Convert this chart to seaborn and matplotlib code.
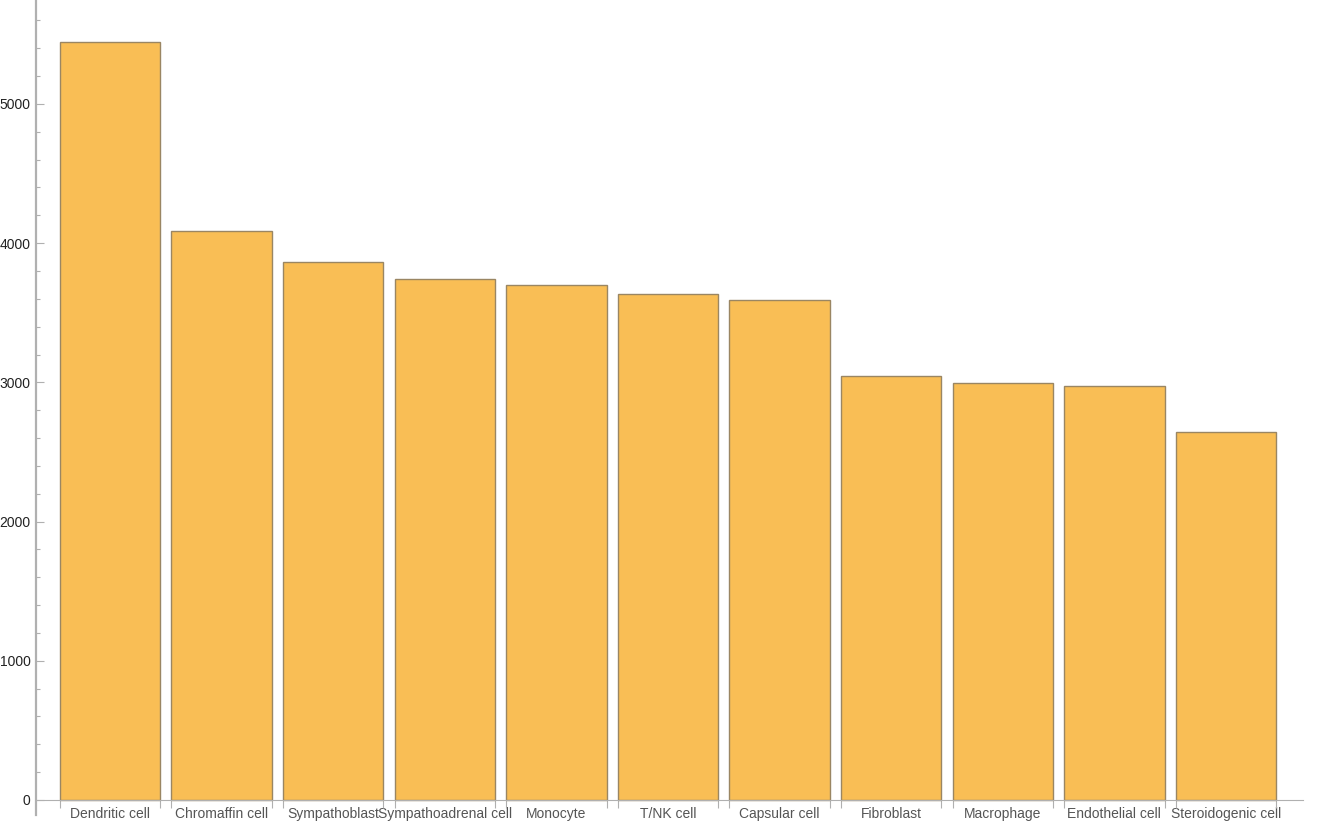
import numpy as np
import pandas as pd
import matplotlib
matplotlib.use("Agg")
import matplotlib.pyplot as plt
import seaborn as sns

# vrednosti odčitane s slike
cell_types = ["Dendritic cell", "Chromaffin cell", "Sympathoblast", "Sympathoadrenal cell",
              "Monocyte", "T/NK cell", "Capsular cell", "Fibroblast", "Macrophage",
              "Endothelial cell", "Steroidogenic cell"]
counts = [5445, 4088, 3865, 3745, 3702, 3636, 3592, 3047, 2998, 2976, 2645]

df = pd.DataFrame({"cell": cell_types, "count": counts})

sns.set_style("white")
plt.rcParams["font.family"] = ["Liberation Sans", "DejaVu Sans"]

fig = plt.figure(figsize=(13.32, 8.24), dpi=100)
ax = fig.add_axes([36 / 1332, 9 / 824, (1303 - 36) / 1332, (815 - 0) / 824])

sns.barplot(data=df, x="cell", y="count", color="#F9BE55", saturation=1,
            width=0.9, edgecolor="#9a8663", linewidth=1.0, ax=ax)

ax.set_xlim(-0.663, 10.69)
ax.set_ylim(-108, 5747)
ax.set_xlabel("")
ax.set_ylabel("")

for s in ["top", "right"]:
    ax.spines[s].set_visible(False)
ax.spines["bottom"].set_position(("data", 0))
ax.spines["bottom"].set_color("#b0b0b0")
ax.spines["left"].set_color("#b0b0b0")
ax.spines["left"].set_linewidth(1.6)

ax.set_yticks(np.arange(0, 5001, 1000))
ax.set_yticks(np.arange(0, 5601, 200), minor=True)
ax.tick_params(axis="y", which="both", left=True)
ax.tick_params(axis="y", which="major", direction="in", length=6, width=0.8, color="#b0b0b0",
               labelsize=10, labelcolor="#222222", pad=4)
ax.tick_params(axis="y", which="minor", direction="in", length=3, width=0.8, color="#b0b0b0")

n = len(cell_types)
ax.set_xticks(range(n))
ax.set_xticklabels(cell_types)
edges = [i + d for i in range(n) for d in (-0.45, 0.45)]
ax.set_xticks(edges, minor=True)
ax.tick_params(axis="x", which="both", bottom=True)
ax.tick_params(axis="x", which="major", length=0, labelsize=10, labelcolor="#555555", pad=5)
ax.tick_params(axis="x", which="minor", direction="out", length=6, width=0.8, color="#b0b0b0")

fig.savefig("out.png", dpi=100)
